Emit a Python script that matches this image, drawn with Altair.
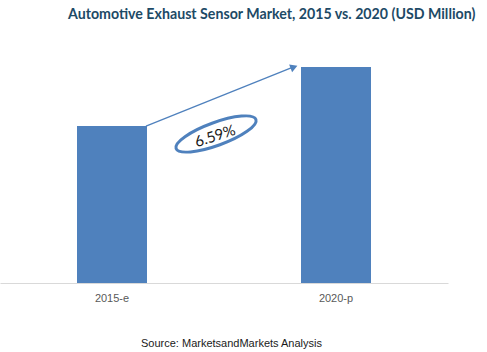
import altair as alt
import pandas as pd

categories = ["2015-e", "2020-p"]
values = [1000, 1376]
cagr_label = "6.59%"
title_text = "Automotive Exhaust Sensor Market, 2015 vs. 2020 (USD Million)"
source_text = "Source: MarketsandMarkets Analysis"

bars_df = pd.DataFrame({"year": categories, "value": values})
arrow_df = pd.DataFrame({"y1": [values[0]], "y2": [values[1]], "label": [cagr_label]})

BLUE = "#4F81BD"
ydom = [0, 1612]

base = alt.Chart(bars_df)
bars = base.mark_bar(size=70, color=BLUE).encode(
    x=alt.X("year:N", sort=categories,
            scale=alt.Scale(paddingInner=0, paddingOuter=0),
            axis=alt.Axis(title=source_text, labelAngle=0, ticks=False, grid=False,
                          labelPadding=9, labelFontSize=11, labelColor="#595959",
                          labelFont="Liberation Sans",
                          domainColor="#D9D9D9", domainWidth=1,
                          titleFont="Liberation Sans", titleFontSize=11,
                          titleFontWeight="normal", titleColor="#1a1a1a",
                          titleX=231, titleY=60, titleBaseline="middle")),
    y=alt.Y("value:Q", scale=alt.Scale(domain=ydom), axis=None),
)

arrow_src = alt.Chart(arrow_df)
line = arrow_src.mark_rule(color=BLUE, strokeWidth=1.3).encode(
    x=alt.value(146), x2=alt.value(293),
    y=alt.Y("y1:Q", scale=alt.Scale(domain=ydom), axis=None),
    y2="y2:Q",
)
head = arrow_src.mark_point(shape="triangle-right", filled=True, color=BLUE,
                            size=70, opacity=1, angle=339).encode(
    x=alt.value(294),
    y=alt.Y("y2:Q", scale=alt.Scale(domain=ydom), axis=None),
)

k = 0.27
c = 0.5523
ell_path = (f"M -1 0 C -1 {-k*c} {-c} {-k} 0 {-k} C {c} {-k} 1 {-k*c} 1 0 "
            f"C 1 {k*c} {c} {k} 0 {k} C {-c} {k} -1 {k*c} -1 0 Z")
ellipse = arrow_src.mark_point(shape=ell_path, filled=False, fill="white",
                               fillOpacity=1, stroke=BLUE, strokeWidth=3,
                               size=7225, opacity=1, angle=340).encode(
    x=alt.value(216), y=alt.value(104),
)
text = arrow_src.mark_text(fontSize=15, font="Lato", color="#1a1a1a",
                           angle=342, align="center", baseline="middle").encode(
    x=alt.value(215), y=alt.value(106), text="label:N",
)

chart = alt.layer(bars, line, head, ellipse, text).properties(
    width=448, height=253,
    background="white",
    title=alt.TitleParams(title_text, font="Lato", fontSize=14.2,
                          fontWeight="bold", color="#1D4A66", anchor="start",
                          dx=68, dy=15, offset=12, baseline="alphabetic"),
    autosize=alt.AutoSizeParams(type="none"),
    padding={"left": 0, "top": 30, "right": 39, "bottom": 69},
).configure_view(stroke=None, strokeWidth=0).configure_axisY(
    grid=False, domain=False, labels=False, ticks=False
)

chart.save("out.html", embed_options={"renderer": "svg", "actions": False})
